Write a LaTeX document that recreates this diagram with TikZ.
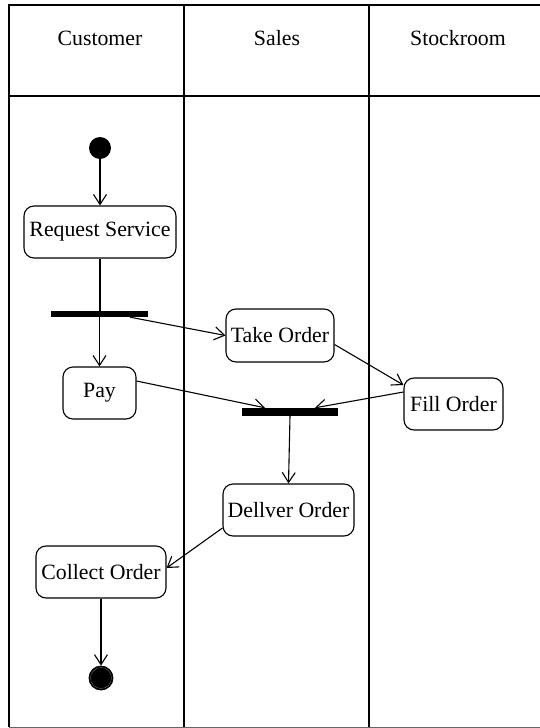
\documentclass[tikz,border=0pt]{standalone}
\usepackage{fontspec}
\setmainfont{Liberation Serif}
\usetikzlibrary{arrows.meta}
\begin{document}
\begin{tikzpicture}[x=1pt,y=-1pt,
  frame/.style={line width=1.4pt},
  act/.style={draw,rounded corners=10pt,line width=1.1pt,font=\fontsize{21.8}{24}\selectfont,inner sep=0pt,minimum height=52pt},
  bar/.style={fill=black,inner sep=0pt},
  flow/.style={line width=1.1pt,-{Straight Barb[length=10pt,width=13pt,line width=1.1pt]}},
  plain/.style={line width=1.1pt},
  head/.style={font=\fontsize{21.8}{24}\selectfont}]
\useasboundingbox (0,0) rectangle (540,728);
% frame
\draw[frame] (9,727) -- (9,5) -- (540,5);
\draw[frame] (9,96) -- (540,96);
\draw[frame] (184,5) -- (184,727);
\draw[frame] (369,5) -- (369,727);
\draw[line width=1pt,black!60] (9,727) -- (540,727);
% headers
\node[head] (hc) at (100,38) {Customer};
\node[head] (hs) at (277,38) {Sales};
\node[head] (hk) at (458,38) {Stockroom};
% nodes
\node[circle,fill=black,inner sep=0pt,minimum size=22pt] (start) at (100,148) {};
\node[act,minimum width=152pt] (req) at (100,232) {Request Service};
\node[bar,minimum width=97pt,minimum height=6pt] (fork) at (99.5,314) {};
\node[act,minimum width=73pt] (pay) at (99.5,393) {Pay};
\node[act,minimum width=108pt,minimum height=53pt] (take) at (280,335.5) {Take Order};
\node[act,minimum width=99pt] (fill) at (453.5,404) {Fill Order};
\node[bar,minimum width=96pt,minimum height=8pt] (join) at (290,412) {};
\node[act,minimum width=131pt] (deliver) at (288.5,510) {Dellver Order};
\node[act,minimum width=130pt] (collect) at (101,572) {Collect Order};
\node[circle,fill=black,draw=black,line width=0.8pt,inner sep=0pt,minimum size=24pt] (end) at (101,678) {};
\draw[black!55,line width=0.35pt] (end.center) circle (10.5pt);
% connectors
\draw[flow] (start) -- (req.north);
\draw[plain] (req.south) -- (req.south |- fork.north);
\draw[flow] (fork.south -| pay.north) -- (pay.north);
\draw[flow] ([xshift=-18pt]fork.south east) -- (take.west);
\draw[flow] ([yshift=-9pt]take.east) -- ([yshift=19pt]fill.west);
\draw[flow] ([yshift=12pt]pay.east) -- ([xshift=-25pt]join.north);
\draw[flow] ([yshift=12pt]fill.west) -- ([xshift=25pt]join.north);
\draw[flow] (join.south) -- (deliver.north);
\draw[flow] ([yshift=-18pt]deliver.west) -- ([yshift=4pt]collect.east);
\draw[flow] (collect.south) -- (end.north);
\end{tikzpicture}
\end{document}
